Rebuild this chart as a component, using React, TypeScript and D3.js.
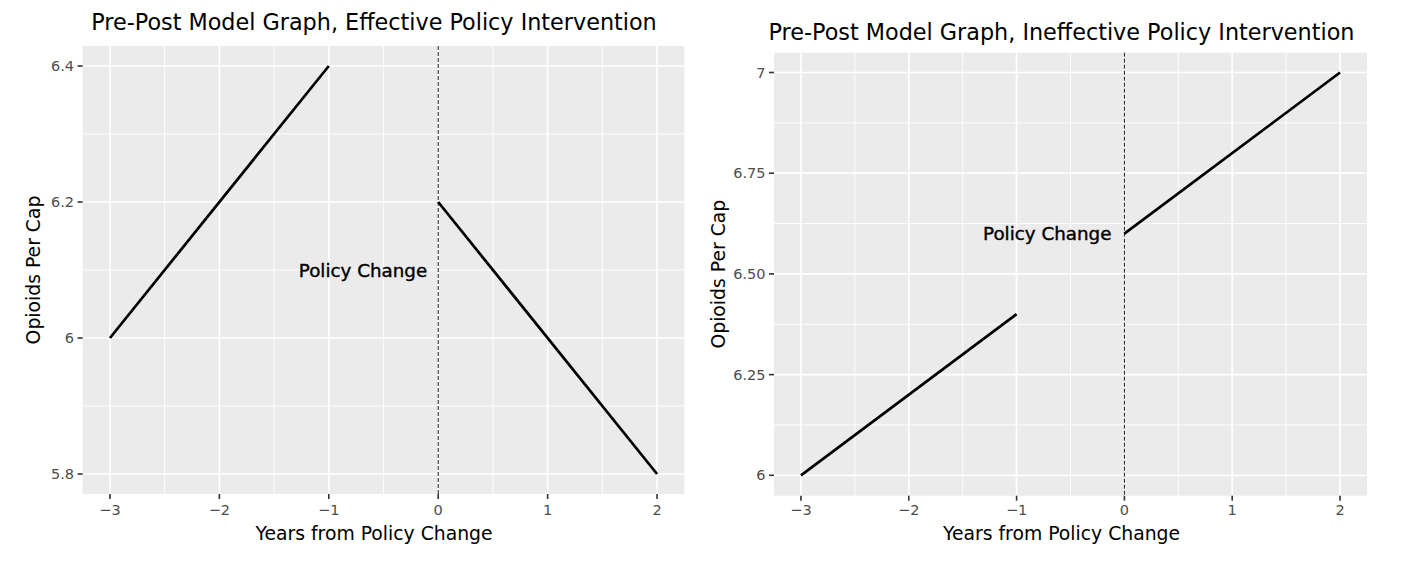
import React from "react";
import * as d3 from "d3";

const W = 1406;
const H = 582;

// Data
const preYears = [-3, -1];
const postYears = [0, 2];
const effPre = [6.0, 6.4];
const effPost = [6.2, 5.8];
const ineffPre = [6.0, 6.4];
const ineffPost = [6.6, 7.0];
const xTicks = [-3, -2, -1, 0, 1, 2];
const xMinor = [-2.5, -1.5, -0.5, 0.5, 1.5];
const effYTicks = [5.8, 6.0, 6.2, 6.4];
const effYLabels = ["5.8", "6", "6.2", "6.4"];
const effYMinor = [5.9, 6.1, 6.3];
const ineffYTicks = [6.0, 6.25, 6.5, 6.75, 7.0];
const ineffYLabels = ["6", "6.25", "6.50", "6.75", "7"];
const ineffYMinor = [6.125, 6.375, 6.625, 6.875];
const effLabelY = 6.1;
const ineffLabelY = 6.6;

const FONT = "DejaVu Sans, sans-serif";

type PanelProps = {
  title: string;
  left: number;
  right: number;
  top: number;
  bottom: number;
  yDomain: [number, number];
  yTicks: number[];
  yLabels: string[];
  yMinor: number[];
  pre: number[];
  post: number[];
  labelY: number;
  labelOffset: number;
  titleY: number;
  titleX: number;
  yTitleX: number;
};

function Panel(p: PanelProps) {
  const x = d3.scaleLinear().domain([-3.25, 2.25]).range([p.left, p.right]);
  const y = d3.scaleLinear().domain(p.yDomain).range([p.bottom, p.top]);
  const line = d3
    .line<[number, number]>()
    .x((d) => x(d[0]))
    .y((d) => y(d[1]));
  const preData = preYears.map((v, i) => [v, p.pre[i]] as [number, number]);
  const postData = postYears.map((v, i) => [v, p.post[i]] as [number, number]);
  const cy = (p.top + p.bottom) / 2;
  return (
    <g>
      <rect x={p.left} y={p.top} width={p.right - p.left} height={p.bottom - p.top} fill="#ebebeb" />
      {xMinor.map((v) => (
        <line key={"xm" + v} x1={x(v)} x2={x(v)} y1={p.top} y2={p.bottom} stroke="#fff" strokeWidth={0.9} />
      ))}
      {p.yMinor.map((v) => (
        <line key={"ym" + v} x1={p.left} x2={p.right} y1={y(v)} y2={y(v)} stroke="#fff" strokeWidth={0.9} />
      ))}
      {xTicks.map((v) => (
        <line key={"xg" + v} x1={x(v)} x2={x(v)} y1={p.top} y2={p.bottom} stroke="#fff" strokeWidth={1.7} />
      ))}
      {p.yTicks.map((v) => (
        <line key={"yg" + v} x1={p.left} x2={p.right} y1={y(v)} y2={y(v)} stroke="#fff" strokeWidth={1.7} />
      ))}
      <line x1={x(0)} x2={x(0)} y1={p.top} y2={p.bottom} stroke="#000" strokeWidth={0.9} strokeDasharray="4,2" />
      <path d={line(preData) || ""} fill="none" stroke="#000" strokeWidth={2.7} />
      <path d={line(postData) || ""} fill="none" stroke="#000" strokeWidth={2.7} />
      <text
        x={x(0) - p.labelOffset}
        y={y(p.labelY)}
        textAnchor="end"
        dominantBaseline="central"
        fontFamily={FONT}
        fontSize={18.3}
        fill="#000"
        stroke="#000"
        strokeWidth={0.4}
      >
        Policy Change
      </text>
      {xTicks.map((v) => (
        <g key={"xt" + v}>
          <line x1={x(v)} x2={x(v)} y1={p.bottom} y2={p.bottom + 5} stroke="#333" strokeWidth={1.6} />
          <text x={x(v)} y={510} textAnchor="middle" dominantBaseline="central" fontFamily={FONT} fontSize={14.5} fill="#4d4d4d">
            {v < 0 ? "\u2212" + Math.abs(v) : String(v)}
          </text>
        </g>
      ))}
      {p.yTicks.map((v, i) => (
        <g key={"yt" + v}>
          <line x1={p.left - 5} x2={p.left} y1={y(v)} y2={y(v)} stroke="#333" strokeWidth={1.6} />
          <text
            x={p.left - 8.5}
            y={y(v)}
            textAnchor="end"
            dominantBaseline="central"
            fontFamily={FONT}
            fontSize={14.5}
            fill="#4d4d4d"
          >
            {p.yLabels[i]}
          </text>
        </g>
      ))}
      <text x={p.titleX} y={533} textAnchor="middle" dominantBaseline="central" fontFamily={FONT} fontSize={18.8} fill="#000">
        Years from Policy Change
      </text>
      <text
        transform={`translate(${p.yTitleX},${cy}) rotate(-90)`}
        textAnchor="middle"
        dominantBaseline="central"
        fontFamily={FONT}
        fontSize={18.8}
        fill="#000"
      >
        Opioids Per Cap
      </text>
      <text x={p.titleX} y={p.titleY} textAnchor="middle" dominantBaseline="central" fontFamily={FONT} fontSize={22.3} fill="#000">
        {p.title}
      </text>
    </g>
  );
}

export default function App() {
  return (
    <svg width={W} height={H} style={{ position: "absolute", left: 0, top: 0, background: "#fff" }}>
      <rect x={0} y={0} width={W} height={H} fill="#fff" />
      <Panel
        title="Pre-Post Model Graph, Effective Policy Intervention"
        left={82.6}
        right={684.4}
        top={46}
        bottom={494}
        yDomain={[5.8 - 20 / 680, 6.4 + 20 / 680]}
        yTicks={effYTicks}
        yLabels={effYLabels}
        yMinor={effYMinor}
        pre={effPre}
        post={effPost}
        labelY={effLabelY}
        labelOffset={11}
        titleY={22}
        titleX={374}
        yTitleX={33}
      />
      <Panel
        title="Pre-Post Model Graph, Ineffective Policy Intervention"
        left={774}
        right={1367}
        top={52.7}
        bottom={495.7}
        yDomain={[6 - 20.4 / 402.8, 7 + 19.8 / 402.8]}
        yTicks={ineffYTicks}
        yLabels={ineffYLabels}
        yMinor={ineffYMinor}
        pre={ineffPre}
        post={ineffPost}
        labelY={ineffLabelY}
        labelOffset={13}
        titleY={32}
        titleX={1061.5}
        yTitleX={718}
      />
    </svg>
  );
}
